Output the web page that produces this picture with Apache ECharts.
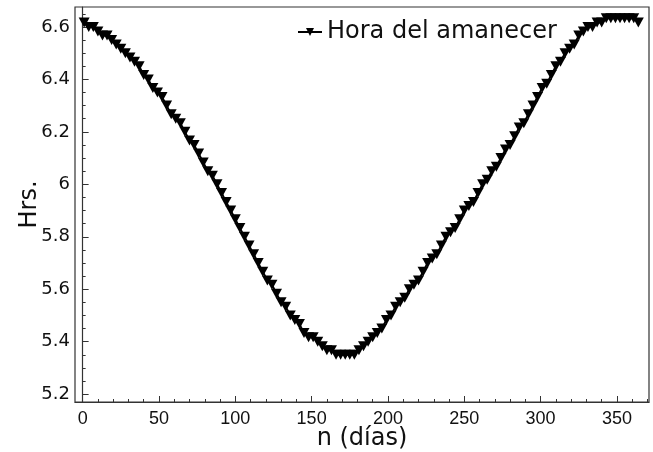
<!doctype html>
<html>
<head>
  <meta charset="utf-8">
  <script src="https://cdn.jsdelivr.net/npm/echarts@6/dist/echarts.min.js"></script>
  <style>
    html, body { margin: 0; padding: 0; background: #fff; }
    #chart { width: 653px; height: 452px; }
  </style>
</head>
<body>
<div id="chart"></div>
<script>
  // day of year (every 3 days)
  var dias = [1, 4, 7, 10, 13, 16, 19, 22, 25, 28, 31, 34, 37, 40, 43, 46, 49, 52, 55, 58,
    61, 64, 67, 70, 73, 76, 79, 82, 85, 88, 91, 94, 97, 100, 103, 106, 109, 112, 115, 118,
    121, 124, 127, 130, 133, 136, 139, 142, 145, 148, 151, 154, 157, 160, 163, 166, 169, 172, 175, 178,
    181, 184, 187, 190, 193, 196, 199, 202, 205, 208, 211, 214, 217, 220, 223, 226, 229, 232, 235, 238,
    241, 244, 247, 250, 253, 256, 259, 262, 265, 268, 271, 274, 277, 280, 283, 286, 289, 292, 295, 298,
    301, 304, 307, 310, 313, 316, 319, 322, 325, 328, 331, 334, 337, 340, 343, 346, 349, 352, 355, 358,
    361, 364];
  // sunrise time in decimal hours
  var amanecer = [6.617, 6.600, 6.600, 6.583, 6.567, 6.567, 6.550, 6.533, 6.517, 6.500,
    6.483, 6.467, 6.450, 6.417, 6.400, 6.367, 6.350, 6.333, 6.300, 6.267,
    6.250, 6.233, 6.200, 6.167, 6.150, 6.117, 6.083, 6.050, 6.033, 6.000,
    5.967, 5.933, 5.900, 5.867, 5.833, 5.800, 5.767, 5.733, 5.700, 5.667,
    5.633, 5.617, 5.583, 5.550, 5.533, 5.500, 5.483, 5.467, 5.433, 5.417,
    5.417, 5.400, 5.383, 5.367, 5.367, 5.350, 5.350, 5.350, 5.350, 5.350,
    5.367, 5.383, 5.400, 5.417, 5.433, 5.450, 5.483, 5.500, 5.533, 5.550,
    5.567, 5.600, 5.617, 5.633, 5.667, 5.700, 5.717, 5.733, 5.767, 5.800,
    5.817, 5.833, 5.867, 5.900, 5.917, 5.933, 5.967, 6.000, 6.017, 6.050,
    6.067, 6.100, 6.133, 6.150, 6.183, 6.217, 6.233, 6.267, 6.300, 6.333,
    6.367, 6.383, 6.417, 6.450, 6.467, 6.500, 6.517, 6.533, 6.567, 6.583,
    6.600, 6.600, 6.617, 6.617, 6.633, 6.633, 6.633, 6.633, 6.633, 6.633,
    6.633, 6.617];

  var xTicks = [0, 50, 100, 150, 200, 250, 300, 350];
  var xMinor = [10, 20, 30, 40, 60, 70, 80, 90, 110, 120, 130, 140, 160, 170, 180, 190,
    210, 220, 230, 240, 260, 270, 280, 290, 310, 320, 330, 340, 360, 370];
  var yTicks = [5.2, 5.4, 5.6, 5.8, 6, 6.2, 6.4, 6.6];
  var yMinor = [5.25, 5.3, 5.35, 5.45, 5.5, 5.55, 5.65, 5.7, 5.75, 5.85, 5.9, 5.95,
    6.05, 6.1, 6.15, 6.25, 6.3, 6.35, 6.45, 6.5, 6.55, 6.65];

  var puntos = [];
  for (var i = 0; i < dias.length; i++) {
    puntos.push([dias[i], amanecer[i]]);
  }

  var tri = 'path://M0,0 L10,0 L5,9 Z';
  var axisColor = '#333';

  var myChart = echarts.init(document.getElementById('chart'), null, { renderer: 'canvas' });
  var option = {
    animation: false,
    backgroundColor: '#fff',
    grid: {
      left: 75, right: 4, top: 7, bottom: 50,
      containLabel: false, outerBoundsMode: 'none',
      show: true, borderColor: axisColor, borderWidth: 1.2, backgroundColor: 'transparent'
    },
    legend: {
      left: 292, top: 15,
      itemWidth: 24, itemHeight: 10, itemGap: 4,
      textStyle: { fontFamily: 'DejaVu Sans', fontSize: 24, color: '#111' },
      data: ['Hora del amanecer']
    },
    xAxis: [{
      type: 'value', min: -5, max: 371,
      name: 'n (días)', nameLocation: 'middle', nameGap: 25, nameMoveOverlap: false,
      nameTextStyle: { fontFamily: 'DejaVu Sans', fontSize: 24, color: '#111' },
      axisLine: { lineStyle: { color: axisColor, width: 1.2 } },
      axisTick: { inside: true, length: 6, customValues: xTicks, lineStyle: { color: axisColor } },
      axisLabel: { customValues: xTicks, margin: 8, fontFamily: 'Liberation Sans', fontSize: 18, color: '#111' },
      splitLine: { show: false }
    }, {
      type: 'value', min: -5, max: 371, position: 'bottom',
      axisLine: { show: false },
      axisTick: { inside: true, length: 3, customValues: xMinor, lineStyle: { color: axisColor } },
      axisLabel: { show: false },
      splitLine: { show: false }
    }],
    yAxis: [{
      type: 'value', min: 5.17, max: 6.676,
      name: 'Hrs.', nameLocation: 'middle', nameGap: 33, nameMoveOverlap: false,
      nameTextStyle: { fontFamily: 'DejaVu Sans', fontSize: 24, color: '#111' },
      axisLine: { show: true, lineStyle: { color: axisColor, width: 1.2 } },
      axisTick: { show: true, inside: true, length: 6, customValues: yTicks, lineStyle: { color: axisColor } },
      axisLabel: { customValues: yTicks, margin: 5, fontFamily: 'DejaVu Sans', fontSize: 18, color: '#111' },
      splitLine: { show: false }
    }, {
      type: 'value', min: 5.17, max: 6.676, position: 'left',
      axisLine: { show: false },
      axisTick: { show: true, inside: true, length: 3, customValues: yMinor, lineStyle: { color: axisColor } },
      axisLabel: { show: false },
      splitLine: { show: false }
    }],
    series: [{
      name: 'Hora del amanecer',
      type: 'line',
      data: puntos,
      symbol: tri,
      symbolSize: [11, 10],
      showAllSymbol: true,
      lineStyle: { color: '#000', width: 2 },
      itemStyle: { color: '#000' }
    }]
  };
  myChart.setOption(option);
</script>
</body>
</html>
